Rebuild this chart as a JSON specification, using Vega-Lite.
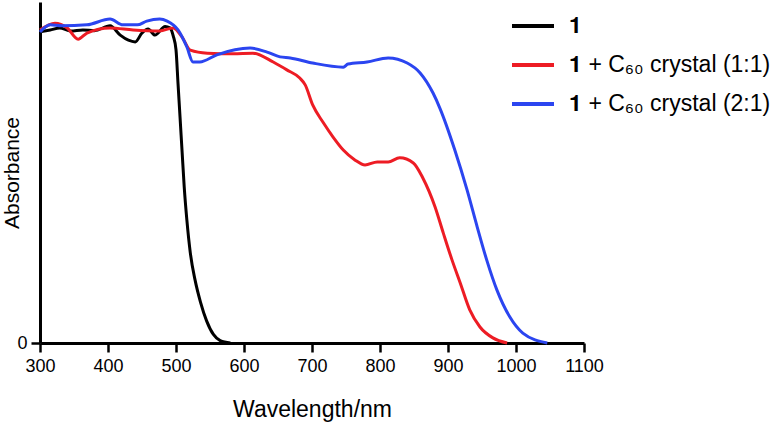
{
  "$schema": "https://vega.github.io/schema/vega-lite/v6.json",
  "width": 544,
  "height": 341,
  "autosize": {"type": "none"},
  "padding": {"left": 40, "top": 2, "right": 200, "bottom": 83},
  "background": "white",
  "config": {
    "view": {"stroke": null},
    "font": "Liberation Sans"
  },
  "data": {
    "values": [
      {"wl": 300, "abs": 0.913, "s": "𝟏"},
      {"wl": 315, "abs": 0.918, "s": "𝟏"},
      {"wl": 329, "abs": 0.924, "s": "𝟏"},
      {"wl": 345, "abs": 0.915, "s": "𝟏"},
      {"wl": 363, "abs": 0.918, "s": "𝟏"},
      {"wl": 380, "abs": 0.916, "s": "𝟏"},
      {"wl": 403, "abs": 0.930, "s": "𝟏"},
      {"wl": 418, "abs": 0.903, "s": "𝟏"},
      {"wl": 430, "abs": 0.888, "s": "𝟏"},
      {"wl": 440, "abs": 0.883, "s": "𝟏"},
      {"wl": 450, "abs": 0.909, "s": "𝟏"},
      {"wl": 459, "abs": 0.921, "s": "𝟏"},
      {"wl": 469, "abs": 0.903, "s": "𝟏"},
      {"wl": 484, "abs": 0.928, "s": "𝟏"},
      {"wl": 491, "abs": 0.924, "s": "𝟏"},
      {"wl": 496, "abs": 0.900, "s": "𝟏"},
      {"wl": 500, "abs": 0.860, "s": "𝟏"},
      {"wl": 503, "abs": 0.760, "s": "𝟏"},
      {"wl": 506, "abs": 0.660, "s": "𝟏"},
      {"wl": 509, "abs": 0.560, "s": "𝟏"},
      {"wl": 512, "abs": 0.460, "s": "𝟏"},
      {"wl": 516, "abs": 0.360, "s": "𝟏"},
      {"wl": 521, "abs": 0.265, "s": "𝟏"},
      {"wl": 528, "abs": 0.185, "s": "𝟏"},
      {"wl": 536, "abs": 0.120, "s": "𝟏"},
      {"wl": 545, "abs": 0.065, "s": "𝟏"},
      {"wl": 555, "abs": 0.025, "s": "𝟏"},
      {"wl": 565, "abs": 0.007, "s": "𝟏"},
      {"wl": 580, "abs": 0.0, "s": "𝟏"},

      {"wl": 300, "abs": 0.918, "s": "𝟏 + C₆₀ crystal (1:1)"},
      {"wl": 322, "abs": 0.938, "s": "𝟏 + C₆₀ crystal (1:1)"},
      {"wl": 340, "abs": 0.924, "s": "𝟏 + C₆₀ crystal (1:1)"},
      {"wl": 356, "abs": 0.891, "s": "𝟏 + C₆₀ crystal (1:1)"},
      {"wl": 369, "abs": 0.909, "s": "𝟏 + C₆₀ crystal (1:1)"},
      {"wl": 403, "abs": 0.924, "s": "𝟏 + C₆₀ crystal (1:1)"},
      {"wl": 437, "abs": 0.918, "s": "𝟏 + C₆₀ crystal (1:1)"},
      {"wl": 476, "abs": 0.915, "s": "𝟏 + C₆₀ crystal (1:1)"},
      {"wl": 496, "abs": 0.924, "s": "𝟏 + C₆₀ crystal (1:1)"},
      {"wl": 509, "abs": 0.897, "s": "𝟏 + C₆₀ crystal (1:1)"},
      {"wl": 521, "abs": 0.859, "s": "𝟏 + C₆₀ crystal (1:1)"},
      {"wl": 546, "abs": 0.850, "s": "𝟏 + C₆₀ crystal (1:1)"},
      {"wl": 584, "abs": 0.848, "s": "𝟏 + C₆₀ crystal (1:1)"},
      {"wl": 613, "abs": 0.850, "s": "𝟏 + C₆₀ crystal (1:1)"},
      {"wl": 643, "abs": 0.824, "s": "𝟏 + C₆₀ crystal (1:1)"},
      {"wl": 663, "abs": 0.801, "s": "𝟏 + C₆₀ crystal (1:1)"},
      {"wl": 682, "abs": 0.777, "s": "𝟏 + C₆₀ crystal (1:1)"},
      {"wl": 690, "abs": 0.757, "s": "𝟏 + C₆₀ crystal (1:1)"},
      {"wl": 701, "abs": 0.698, "s": "𝟏 + C₆₀ crystal (1:1)"},
      {"wl": 716, "abs": 0.648, "s": "𝟏 + C₆₀ crystal (1:1)"},
      {"wl": 731, "abs": 0.604, "s": "𝟏 + C₆₀ crystal (1:1)"},
      {"wl": 746, "abs": 0.566, "s": "𝟏 + C₆₀ crystal (1:1)"},
      {"wl": 763, "abs": 0.537, "s": "𝟏 + C₆₀ crystal (1:1)"},
      {"wl": 778, "abs": 0.522, "s": "𝟏 + C₆₀ crystal (1:1)"},
      {"wl": 796, "abs": 0.531, "s": "𝟏 + C₆₀ crystal (1:1)"},
      {"wl": 812, "abs": 0.531, "s": "𝟏 + C₆₀ crystal (1:1)"},
      {"wl": 829, "abs": 0.543, "s": "𝟏 + C₆₀ crystal (1:1)"},
      {"wl": 849, "abs": 0.528, "s": "𝟏 + C₆₀ crystal (1:1)"},
      {"wl": 863, "abs": 0.484, "s": "𝟏 + C₆₀ crystal (1:1)"},
      {"wl": 881, "abs": 0.399, "s": "𝟏 + C₆₀ crystal (1:1)"},
      {"wl": 893, "abs": 0.323, "s": "𝟏 + C₆₀ crystal (1:1)"},
      {"wl": 906, "abs": 0.243, "s": "𝟏 + C₆₀ crystal (1:1)"},
      {"wl": 918, "abs": 0.176, "s": "𝟏 + C₆₀ crystal (1:1)"},
      {"wl": 932, "abs": 0.097, "s": "𝟏 + C₆₀ crystal (1:1)"},
      {"wl": 947, "abs": 0.047, "s": "𝟏 + C₆₀ crystal (1:1)"},
      {"wl": 966, "abs": 0.015, "s": "𝟏 + C₆₀ crystal (1:1)"},
      {"wl": 987, "abs": 0.0, "s": "𝟏 + C₆₀ crystal (1:1)"},

      {"wl": 300, "abs": 0.912, "s": "𝟏 + C₆₀ crystal (2:1)"},
      {"wl": 315, "abs": 0.933, "s": "𝟏 + C₆₀ crystal (2:1)"},
      {"wl": 332, "abs": 0.930, "s": "𝟏 + C₆₀ crystal (2:1)"},
      {"wl": 369, "abs": 0.933, "s": "𝟏 + C₆₀ crystal (2:1)"},
      {"wl": 403, "abs": 0.950, "s": "𝟏 + C₆₀ crystal (2:1)"},
      {"wl": 422, "abs": 0.933, "s": "𝟏 + C₆₀ crystal (2:1)"},
      {"wl": 443, "abs": 0.933, "s": "𝟏 + C₆₀ crystal (2:1)"},
      {"wl": 457, "abs": 0.944, "s": "𝟏 + C₆₀ crystal (2:1)"},
      {"wl": 476, "abs": 0.950, "s": "𝟏 + C₆₀ crystal (2:1)"},
      {"wl": 487, "abs": 0.944, "s": "𝟏 + C₆₀ crystal (2:1)"},
      {"wl": 503, "abs": 0.918, "s": "𝟏 + C₆₀ crystal (2:1)"},
      {"wl": 516, "abs": 0.868, "s": "𝟏 + C₆₀ crystal (2:1)"},
      {"wl": 525, "abs": 0.824, "s": "𝟏 + C₆₀ crystal (2:1)"},
      {"wl": 535, "abs": 0.824, "s": "𝟏 + C₆₀ crystal (2:1)"},
      {"wl": 560, "abs": 0.845, "s": "𝟏 + C₆₀ crystal (2:1)"},
      {"wl": 609, "abs": 0.865, "s": "𝟏 + C₆₀ crystal (2:1)"},
      {"wl": 634, "abs": 0.853, "s": "𝟏 + C₆₀ crystal (2:1)"},
      {"wl": 653, "abs": 0.839, "s": "𝟏 + C₆₀ crystal (2:1)"},
      {"wl": 668, "abs": 0.836, "s": "𝟏 + C₆₀ crystal (2:1)"},
      {"wl": 701, "abs": 0.821, "s": "𝟏 + C₆₀ crystal (2:1)"},
      {"wl": 746, "abs": 0.809, "s": "𝟏 + C₆₀ crystal (2:1)"},
      {"wl": 753, "abs": 0.818, "s": "𝟏 + C₆₀ crystal (2:1)"},
      {"wl": 781, "abs": 0.824, "s": "𝟏 + C₆₀ crystal (2:1)"},
      {"wl": 812, "abs": 0.836, "s": "𝟏 + C₆₀ crystal (2:1)"},
      {"wl": 840, "abs": 0.821, "s": "𝟏 + C₆₀ crystal (2:1)"},
      {"wl": 859, "abs": 0.792, "s": "𝟏 + C₆₀ crystal (2:1)"},
      {"wl": 878, "abs": 0.733, "s": "𝟏 + C₆₀ crystal (2:1)"},
      {"wl": 888, "abs": 0.689, "s": "𝟏 + C₆₀ crystal (2:1)"},
      {"wl": 910, "abs": 0.566, "s": "𝟏 + C₆₀ crystal (2:1)"},
      {"wl": 928, "abs": 0.449, "s": "𝟏 + C₆₀ crystal (2:1)"},
      {"wl": 943, "abs": 0.340, "s": "𝟏 + C₆₀ crystal (2:1)"},
      {"wl": 957, "abs": 0.243, "s": "𝟏 + C₆₀ crystal (2:1)"},
      {"wl": 972, "abs": 0.155, "s": "𝟏 + C₆₀ crystal (2:1)"},
      {"wl": 991, "abs": 0.076, "s": "𝟏 + C₆₀ crystal (2:1)"},
      {"wl": 1010, "abs": 0.029, "s": "𝟏 + C₆₀ crystal (2:1)"},
      {"wl": 1046, "abs": 0.0, "s": "𝟏 + C₆₀ crystal (2:1)"}
    ]
  },
  "mark": {"type": "line", "strokeWidth": 3, "interpolate": "monotone", "clip": false},
  "encoding": {
    "x": {
      "field": "wl",
      "type": "quantitative",
      "scale": {"domain": [300, 1100], "nice": false, "zero": false},
      "axis": {
        "title": "Wavelength/nm",
        "values": [300, 400, 500, 600, 700, 800, 900, 1000, 1100],
        "format": "d",
        "labelFlush": false,
        "labelOverlap": false,
        "grid": false,
        "domainColor": "black",
        "domainWidth": 3,
        "tickColor": "black",
        "tickWidth": 2.5,
        "tickSize": 9,
        "labelFontSize": 18,
        "labelColor": "black",
        "labelPadding": 5,
        "labelFont": "Liberation Sans",
        "titleFont": "Liberation Sans",
        "titleFontSize": 23,
        "titleFontWeight": "normal",
        "titleColor": "black",
        "titlePadding": 23
      }
    },
    "y": {
      "field": "abs",
      "type": "quantitative",
      "scale": {"domain": [0, 1], "nice": false},
      "axis": {
        "title": "Absorbance",
        "values": [0],
        "format": "d",
        "grid": false,
        "domainColor": "black",
        "domainWidth": 3,
        "tickColor": "black",
        "tickWidth": 2.5,
        "tickSize": 9,
        "labelFontSize": 18,
        "labelColor": "black",
        "labelPadding": 4,
        "labelFont": "Liberation Sans",
        "titleFont": "Liberation Sans",
        "titleFontSize": 21,
        "titleFontWeight": "normal",
        "titleColor": "black",
        "titlePadding": -6
      }
    },
    "color": {
      "field": "s",
      "type": "nominal",
      "scale": {
        "domain": ["𝟏", "𝟏 + C₆₀ crystal (1:1)", "𝟏 + C₆₀ crystal (2:1)"],
        "range": ["#000000", "#ED1C24", "#2B45F0"]
      },
      "legend": {
        "title": null,
        "orient": "none",
        "legendX": 470,
        "legendY": 1,
        "padding": 0,
        "symbolType": "stroke",
        "symbolSize": 1764,
        "symbolStrokeWidth": 4,
        "labelFontSize": 23,
        "labelFont": "Liberation Sans",
        "labelColor": "black",
        "labelOffset": 13,
        "labelLimit": 400,
        "rowPadding": 4
      }
    }
  }
}
